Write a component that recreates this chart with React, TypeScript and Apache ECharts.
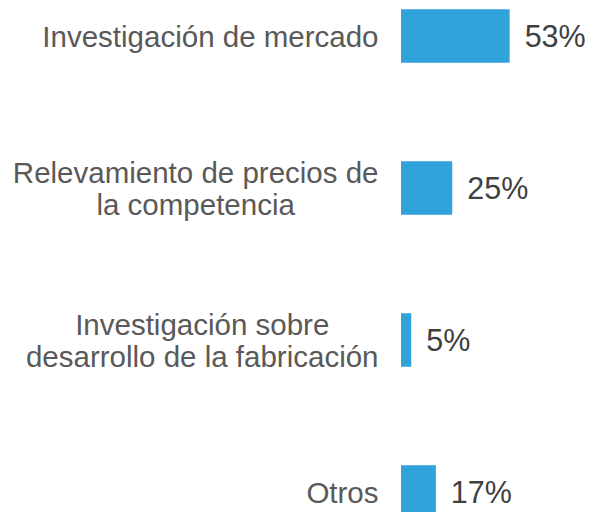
import React, { useEffect, useRef } from "react";
import * as echarts from "echarts";

const categories = [
  "Investigación de mercado",
  "Relevamiento de precios de\nla competencia",
  "Investigación sobre\ndesarrollo de la fabricación",
  "Otros",
];
const values = [53, 25, 5, 17];

const FONT = "'Liberation Sans'";

export default function App() {
  const ref = useRef<HTMLDivElement>(null);
  useEffect(() => {
    if (!ref.current) return;
    const chart = echarts.init(ref.current, undefined, { renderer: "svg" });
    chart.setOption({
      animation: false,
      backgroundColor: "#ffffff",
      textStyle: { fontFamily: FONT },
      grid: {
        left: 401,
        top: -40,
        width: 205,
        height: 608,
        containLabel: false,
        outerBoundsMode: "none",
      },
      xAxis: {
        type: "value",
        min: 0,
        max: 100,
        show: false,
      },
      yAxis: {
        type: "category",
        data: categories,
        inverse: true,
        axisLine: { show: false },
        axisTick: { show: false },
        splitLine: { show: false },
        axisLabel: {
          margin: 22.5,
          fontFamily: FONT,
          formatter: (v: string) =>
            v
              .split("\n")
              .map((l) => `{c|${l}}`)
              .join("\n"),
          rich: {
            c: {
              align: "center",
              fontSize: 29.5,
              lineHeight: 32,
              color: "#595959",
              fontFamily: FONT,
            },
          },
        },
      },
      series: [
        {
          type: "bar",
          data: values,
          barWidth: 53.5,
          itemStyle: { color: "#31A3DB" },
          label: {
            show: true,
            position: "right",
            distance: 15,
            formatter: "{c}%",
            fontSize: 30.5,
            color: "#404040",
            fontFamily: FONT,
          },
        },
      ],
    });
    return () => chart.dispose();
  }, []);
  return (
    <div
      ref={ref}
      style={{ position: "fixed", left: 0, top: 0, width: 593, height: 512 }}
    />
  );
}
